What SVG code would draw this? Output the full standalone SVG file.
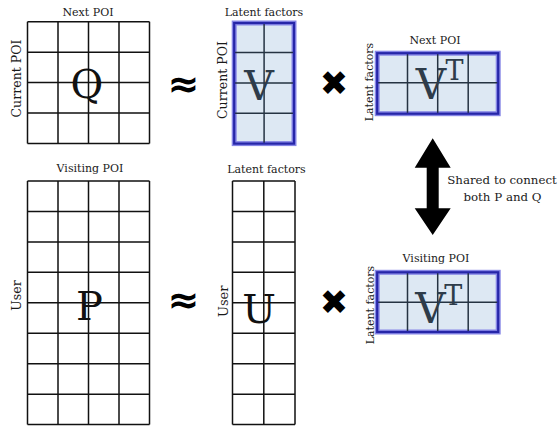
<svg xmlns="http://www.w3.org/2000/svg" width="560" height="428" viewBox="0 0 560 428">
<style>
.lbl{font-family:"DejaVu Serif","Liberation Serif",serif;fill:#1a1a1a;text-anchor:middle}
.s11{font-size:11px}
.s12{font-size:12.6px}
.big{font-family:"DejaVu Serif","Liberation Serif",serif;font-size:40px;text-anchor:middle;fill:#111}
.bigv{font-family:"DejaVu Serif","Liberation Serif",serif;text-anchor:middle;fill:#2e3c4a}
.gl{fill:none;stroke:#111;stroke-width:1.5}
.vfill{fill:#dde8f3}
.vgl{fill:none;stroke:#253342;stroke-width:1.5}
.vout{fill:none;stroke:#8686e6;stroke-width:5}
.vin{fill:none;stroke:#2626a8;stroke-width:2.2}
.op{font-family:"DejaVu Sans","Liberation Sans",sans-serif;font-weight:bold;fill:#000;text-anchor:middle}
</style>
<rect width="560" height="428" fill="#fff"/>

<g id="matrix-Q">
<text class="lbl s11" x="88" y="15.7">Next POI</text>
<text class="lbl s12" x="21" y="78.5" transform="rotate(-90 21 78.5)">Current POI</text>
<path class="gl" d="M27.5 21.7V143.5M58 21.7V143.5M88.5 21.7V143.5M119 21.7V143.5M149.5 21.7V143.5M27.5 21.7H149.5M27.5 52.15H149.5M27.5 82.6H149.5M27.5 113.05H149.5M27.5 143.5H149.5"/>
<text class="big" x="87" y="98">Q</text>
</g>

<g id="op-approx-1">
<text class="op" x="183.5" y="97" font-size="38">≈</text>
</g>

<g id="matrix-V">
<text class="lbl s11" x="264" y="15.7">Latent factors</text>
<text class="lbl s12" x="227" y="80" transform="rotate(-90 227 80)">Current POI</text>
<rect class="vfill" x="234.2" y="23" width="59.8" height="120.6"/>
<rect class="vout" x="234.2" y="23" width="59.8" height="120.6"/>
<path class="vgl" d="M264.1 23V143.6M234.2 52.5H294M234.2 83H294M234.2 113.3H294"/>
<rect class="vin" x="234.2" y="23" width="59.8" height="120.6"/>
<text class="bigv" x="259" y="100" font-size="41">V</text>
</g>

<g id="op-times-1">
<text class="op" x="334" y="94.5" font-size="34">✖</text>
</g>

<g id="matrix-VT-top">
<text class="lbl s11" x="435" y="44.3">Next POI</text>
<text class="lbl s11" x="372.7" y="82" transform="rotate(-90 372.7 82)">Latent factors</text>
<rect class="vfill" x="377.2" y="53.2" width="121" height="60.5"/>
<rect class="vout" x="377.2" y="53.2" width="121" height="60.5"/>
<path class="vgl" d="M407.5 53.2V113.7M437.7 53.2V113.7M468.2 53.2V113.7M377.2 82.7H498.2"/>
<rect class="vin" x="377.2" y="53.2" width="121" height="60.5"/>
<text class="bigv" x="431" y="99" font-size="42">V</text>
<text class="bigv" x="454.5" y="80" font-size="27">T</text>
</g>

<g id="connectors">
<polygon fill="#000" points="432.7,138.3 450.7,167.7 438.7,167.7 438.7,208.3 450.7,208.3 432.7,235 414.7,208.3 426.7,208.3 426.7,167.7 414.7,167.7"/>
</g>

<g id="note-shared">
<text class="lbl" font-size="11.8" x="502" y="184.3">Shared to connect</text>
<text class="lbl" font-size="11.8" x="502.5" y="201">both P and Q</text>
</g>

<g id="matrix-P">
<text class="lbl s11" x="90" y="171.7">Visiting POI</text>
<text class="lbl s12" x="21" y="295.5" transform="rotate(-90 21 295.5)">User</text>
<path class="gl" d="M27.5 181V424.6M58 181V424.6M88.5 181V424.6M119 181V424.6M149.5 181V424.6M27.5 181H149.5M27.5 211.45H149.5M27.5 241.9H149.5M27.5 272.35H149.5M27.5 302.8H149.5M27.5 333.25H149.5M27.5 363.7H149.5M27.5 394.15H149.5M27.5 424.6H149.5"/>
<text class="big" x="89.5" y="320">P</text>
</g>

<g id="op-approx-2">
<text class="op" x="183.5" y="313" font-size="38">≈</text>
</g>

<g id="matrix-U">
<text class="lbl s11" x="266.5" y="173.3">Latent factors</text>
<text class="lbl" font-size="13" x="227.7" y="301.3" transform="rotate(-90 227.7 301.3)">User</text>
<path class="gl" d="M232.5 181V424.6M263.8 181V424.6M295 181V424.6M232.5 181H295M232.5 211.45H295M232.5 241.9H295M232.5 272.35H295M232.5 302.8H295M232.5 333.25H295M232.5 363.7H295M232.5 394.15H295M232.5 424.6H295"/>
<text class="big" x="259" y="323.3">U</text>
</g>

<g id="op-times-2">
<text class="op" x="334" y="313.5" font-size="34">✖</text>
</g>

<g id="matrix-VT-bottom">
<text class="lbl s11" x="436" y="261.7">Visiting POI</text>
<text class="lbl s11" x="374" y="305" transform="rotate(-90 374 305)">Latent factors</text>
<rect class="vfill" x="377.2" y="272.3" width="121" height="59.7"/>
<rect class="vout" x="377.2" y="272.3" width="121" height="59.7"/>
<path class="vgl" d="M407.5 272.3V332M437.7 272.3V332M468.2 272.3V332M377.2 302.3H498.2"/>
<rect class="vin" x="377.2" y="272.3" width="121" height="59.7"/>
<text class="bigv" x="430.5" y="323.3" font-size="42">V</text>
<text class="bigv" x="453.3" y="305" font-size="27">T</text>
</g>
</svg>
